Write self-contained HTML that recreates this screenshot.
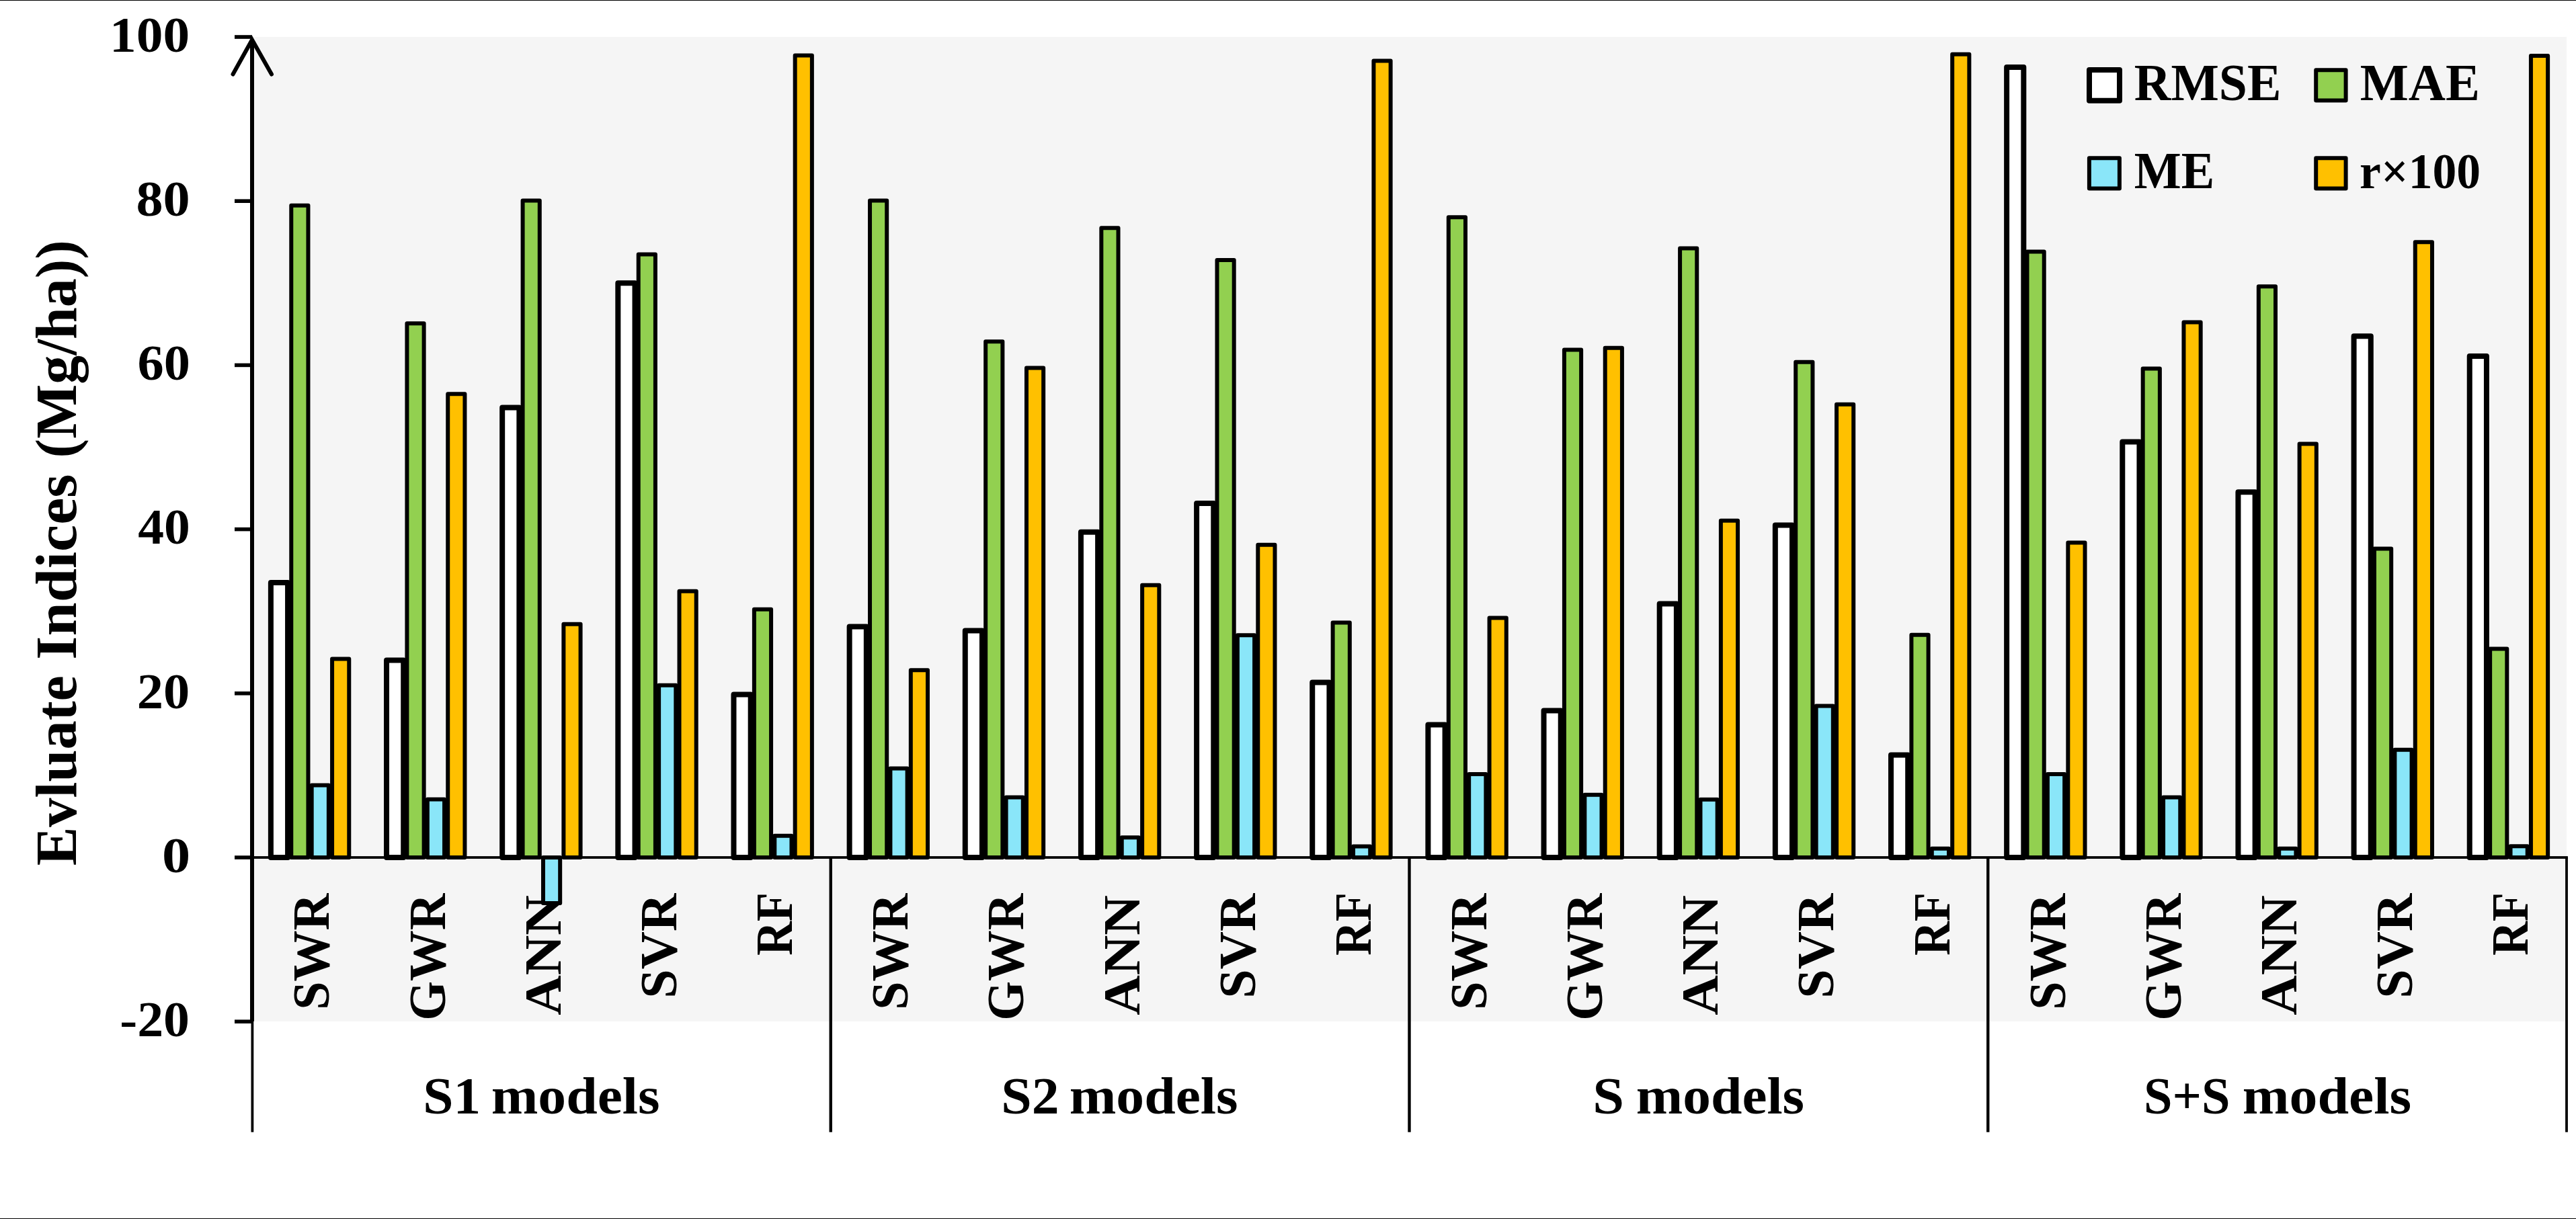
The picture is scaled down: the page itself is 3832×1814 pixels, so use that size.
<!DOCTYPE html>
<html><head><meta charset="utf-8"><title>Evaluate Indices chart</title>
<style>html,body{margin:0;padding:0;background:#fff}svg{display:block}</style></head>
<body><svg width="3832" height="1814" viewBox="0 0 3832 1814">
<rect x="0" y="0" width="3832" height="1814" fill="#fff"/>
<rect x="378" y="55" width="3440" height="1465" fill="#f5f5f5"/>
<text transform="translate(489.47 1502.86) rotate(-90) scale(0.9791 1)" font-size="77.7" font-family="Liberation Serif, serif" font-weight="bold">SWR</text>
<text transform="translate(661.62 1518.78) rotate(-90) scale(0.9731 1)" font-size="77.7" font-family="Liberation Serif, serif" font-weight="bold">GWR</text>
<text transform="translate(833.77 1510.72) rotate(-90) scale(1.0604 1)" font-size="77.7" font-family="Liberation Serif, serif" font-weight="bold">ANN</text>
<text transform="translate(1005.92 1485.76) rotate(-90) scale(1.0037 1)" font-size="77.7" font-family="Liberation Serif, serif" font-weight="bold">SVR</text>
<text transform="translate(1178.08 1422.08) rotate(-90) scale(0.9080 1)" font-size="77.7" font-family="Liberation Serif, serif" font-weight="bold">RF</text>
<text transform="translate(1350.23 1502.86) rotate(-90) scale(0.9791 1)" font-size="77.7" font-family="Liberation Serif, serif" font-weight="bold">SWR</text>
<text transform="translate(1522.38 1518.78) rotate(-90) scale(0.9731 1)" font-size="77.7" font-family="Liberation Serif, serif" font-weight="bold">GWR</text>
<text transform="translate(1694.53 1510.72) rotate(-90) scale(1.0604 1)" font-size="77.7" font-family="Liberation Serif, serif" font-weight="bold">ANN</text>
<text transform="translate(1866.68 1485.76) rotate(-90) scale(1.0037 1)" font-size="77.7" font-family="Liberation Serif, serif" font-weight="bold">SVR</text>
<text transform="translate(2038.83 1422.08) rotate(-90) scale(0.9080 1)" font-size="77.7" font-family="Liberation Serif, serif" font-weight="bold">RF</text>
<text transform="translate(2210.97 1502.86) rotate(-90) scale(0.9791 1)" font-size="77.7" font-family="Liberation Serif, serif" font-weight="bold">SWR</text>
<text transform="translate(2383.13 1518.78) rotate(-90) scale(0.9731 1)" font-size="77.7" font-family="Liberation Serif, serif" font-weight="bold">GWR</text>
<text transform="translate(2555.28 1510.72) rotate(-90) scale(1.0604 1)" font-size="77.7" font-family="Liberation Serif, serif" font-weight="bold">ANN</text>
<text transform="translate(2727.43 1485.76) rotate(-90) scale(1.0037 1)" font-size="77.7" font-family="Liberation Serif, serif" font-weight="bold">SVR</text>
<text transform="translate(2899.58 1422.08) rotate(-90) scale(0.9080 1)" font-size="77.7" font-family="Liberation Serif, serif" font-weight="bold">RF</text>
<text transform="translate(3071.73 1502.86) rotate(-90) scale(0.9791 1)" font-size="77.7" font-family="Liberation Serif, serif" font-weight="bold">SWR</text>
<text transform="translate(3243.88 1518.78) rotate(-90) scale(0.9731 1)" font-size="77.7" font-family="Liberation Serif, serif" font-weight="bold">GWR</text>
<text transform="translate(3416.03 1510.72) rotate(-90) scale(1.0604 1)" font-size="77.7" font-family="Liberation Serif, serif" font-weight="bold">ANN</text>
<text transform="translate(3588.18 1485.76) rotate(-90) scale(1.0037 1)" font-size="77.7" font-family="Liberation Serif, serif" font-weight="bold">SVR</text>
<text transform="translate(3760.33 1422.08) rotate(-90) scale(0.9080 1)" font-size="77.7" font-family="Liberation Serif, serif" font-weight="bold">RF</text>
<rect x="402.88" y="866.96" width="25.2" height="409.04" fill="#ffffff" stroke="#000" stroke-width="8" stroke-linejoin="round"/>
<rect x="575.02" y="982.59" width="25.2" height="293.41" fill="#ffffff" stroke="#000" stroke-width="8" stroke-linejoin="round"/>
<rect x="747.17" y="606.4" width="25.2" height="669.6" fill="#ffffff" stroke="#000" stroke-width="8" stroke-linejoin="round"/>
<rect x="919.32" y="421.3" width="25.2" height="854.7" fill="#ffffff" stroke="#000" stroke-width="8" stroke-linejoin="round"/>
<rect x="1091.48" y="1033.51" width="25.2" height="242.49" fill="#ffffff" stroke="#000" stroke-width="8" stroke-linejoin="round"/>
<rect x="1263.63" y="932.41" width="25.2" height="343.59" fill="#ffffff" stroke="#000" stroke-width="8" stroke-linejoin="round"/>
<rect x="1435.78" y="938.39" width="25.2" height="337.61" fill="#ffffff" stroke="#000" stroke-width="8" stroke-linejoin="round"/>
<rect x="1607.93" y="791.63" width="25.2" height="484.37" fill="#ffffff" stroke="#000" stroke-width="8" stroke-linejoin="round"/>
<rect x="1780.08" y="749.02" width="25.2" height="526.98" fill="#ffffff" stroke="#000" stroke-width="8" stroke-linejoin="round"/>
<rect x="1952.23" y="1015.44" width="25.2" height="260.56" fill="#ffffff" stroke="#000" stroke-width="8" stroke-linejoin="round"/>
<rect x="2124.38" y="1078.44" width="25.2" height="197.56" fill="#ffffff" stroke="#000" stroke-width="8" stroke-linejoin="round"/>
<rect x="2296.53" y="1057.56" width="25.2" height="218.44" fill="#ffffff" stroke="#000" stroke-width="8" stroke-linejoin="round"/>
<rect x="2468.68" y="898.59" width="25.2" height="377.41" fill="#ffffff" stroke="#000" stroke-width="8" stroke-linejoin="round"/>
<rect x="2640.83" y="781.49" width="25.2" height="494.51" fill="#ffffff" stroke="#000" stroke-width="8" stroke-linejoin="round"/>
<rect x="2812.98" y="1123.62" width="25.2" height="152.38" fill="#ffffff" stroke="#000" stroke-width="8" stroke-linejoin="round"/>
<rect x="2985.13" y="100.05" width="25.2" height="1175.95" fill="#ffffff" stroke="#000" stroke-width="8" stroke-linejoin="round"/>
<rect x="3157.28" y="657.56" width="25.2" height="618.44" fill="#ffffff" stroke="#000" stroke-width="8" stroke-linejoin="round"/>
<rect x="3329.43" y="732.29" width="25.2" height="543.71" fill="#ffffff" stroke="#000" stroke-width="8" stroke-linejoin="round"/>
<rect x="3501.58" y="500.3" width="25.2" height="775.7" fill="#ffffff" stroke="#000" stroke-width="8" stroke-linejoin="round"/>
<rect x="3673.73" y="530.09" width="25.2" height="745.91" fill="#ffffff" stroke="#000" stroke-width="8" stroke-linejoin="round"/>
<rect x="433.27" y="305.79" width="25.2" height="970.21" fill="#92d050" stroke="#000" stroke-width="6" stroke-linejoin="round"/>
<rect x="605.42" y="481.13" width="25.2" height="794.87" fill="#92d050" stroke="#000" stroke-width="6" stroke-linejoin="round"/>
<rect x="777.57" y="298.47" width="25.2" height="977.53" fill="#92d050" stroke="#000" stroke-width="6" stroke-linejoin="round"/>
<rect x="949.72" y="378.56" width="25.2" height="897.44" fill="#92d050" stroke="#000" stroke-width="6" stroke-linejoin="round"/>
<rect x="1121.88" y="906.77" width="25.2" height="369.23" fill="#92d050" stroke="#000" stroke-width="6" stroke-linejoin="round"/>
<rect x="1294.03" y="298.47" width="25.2" height="977.53" fill="#92d050" stroke="#000" stroke-width="6" stroke-linejoin="round"/>
<rect x="1466.18" y="508.24" width="25.2" height="767.76" fill="#92d050" stroke="#000" stroke-width="6" stroke-linejoin="round"/>
<rect x="1638.33" y="339.25" width="25.2" height="936.75" fill="#92d050" stroke="#000" stroke-width="6" stroke-linejoin="round"/>
<rect x="1810.48" y="387.11" width="25.2" height="888.89" fill="#92d050" stroke="#000" stroke-width="6" stroke-linejoin="round"/>
<rect x="1982.62" y="926.55" width="25.2" height="349.45" fill="#92d050" stroke="#000" stroke-width="6" stroke-linejoin="round"/>
<rect x="2154.78" y="323.25" width="25.2" height="952.75" fill="#92d050" stroke="#000" stroke-width="6" stroke-linejoin="round"/>
<rect x="2326.93" y="520.57" width="25.2" height="755.43" fill="#92d050" stroke="#000" stroke-width="6" stroke-linejoin="round"/>
<rect x="2499.08" y="369.41" width="25.2" height="906.59" fill="#92d050" stroke="#000" stroke-width="6" stroke-linejoin="round"/>
<rect x="2671.23" y="538.76" width="25.2" height="737.24" fill="#92d050" stroke="#000" stroke-width="6" stroke-linejoin="round"/>
<rect x="2843.38" y="944.74" width="25.2" height="331.26" fill="#92d050" stroke="#000" stroke-width="6" stroke-linejoin="round"/>
<rect x="3015.53" y="374.41" width="25.2" height="901.59" fill="#92d050" stroke="#000" stroke-width="6" stroke-linejoin="round"/>
<rect x="3187.68" y="548.41" width="25.2" height="727.59" fill="#92d050" stroke="#000" stroke-width="6" stroke-linejoin="round"/>
<rect x="3359.83" y="426.31" width="25.2" height="849.69" fill="#92d050" stroke="#000" stroke-width="6" stroke-linejoin="round"/>
<rect x="3531.98" y="816.54" width="25.2" height="459.46" fill="#92d050" stroke="#000" stroke-width="6" stroke-linejoin="round"/>
<rect x="3704.13" y="965.38" width="25.2" height="310.62" fill="#92d050" stroke="#000" stroke-width="6" stroke-linejoin="round"/>
<rect x="463.67" y="1168.55" width="25.2" height="107.45" fill="#8ae6f9" stroke="#000" stroke-width="6" stroke-linejoin="round"/>
<rect x="635.83" y="1189.43" width="25.2" height="86.57" fill="#8ae6f9" stroke="#000" stroke-width="6" stroke-linejoin="round"/>
<rect x="807.98" y="1276" width="25.2" height="67.89" fill="#8ae6f9" stroke="#000" stroke-width="6" stroke-linejoin="round"/>
<rect x="980.12" y="1019.71" width="25.2" height="256.29" fill="#8ae6f9" stroke="#000" stroke-width="6" stroke-linejoin="round"/>
<rect x="1152.28" y="1243.64" width="25.2" height="32.36" fill="#8ae6f9" stroke="#000" stroke-width="6" stroke-linejoin="round"/>
<rect x="1324.43" y="1143.52" width="25.2" height="132.48" fill="#8ae6f9" stroke="#000" stroke-width="6" stroke-linejoin="round"/>
<rect x="1496.58" y="1186.38" width="25.2" height="89.62" fill="#8ae6f9" stroke="#000" stroke-width="6" stroke-linejoin="round"/>
<rect x="1668.73" y="1246.33" width="25.2" height="29.67" fill="#8ae6f9" stroke="#000" stroke-width="6" stroke-linejoin="round"/>
<rect x="1840.88" y="945.35" width="25.2" height="330.65" fill="#8ae6f9" stroke="#000" stroke-width="6" stroke-linejoin="round"/>
<rect x="2013.03" y="1259.39" width="25.2" height="16.61" fill="#8ae6f9" stroke="#000" stroke-width="6" stroke-linejoin="round"/>
<rect x="2185.17" y="1151.95" width="25.2" height="124.05" fill="#8ae6f9" stroke="#000" stroke-width="6" stroke-linejoin="round"/>
<rect x="2357.33" y="1182.72" width="25.2" height="93.28" fill="#8ae6f9" stroke="#000" stroke-width="6" stroke-linejoin="round"/>
<rect x="2529.47" y="1189.68" width="25.2" height="86.32" fill="#8ae6f9" stroke="#000" stroke-width="6" stroke-linejoin="round"/>
<rect x="2701.62" y="1050.48" width="25.2" height="225.52" fill="#8ae6f9" stroke="#000" stroke-width="6" stroke-linejoin="round"/>
<rect x="2873.78" y="1262.69" width="25.2" height="13.31" fill="#8ae6f9" stroke="#000" stroke-width="6" stroke-linejoin="round"/>
<rect x="3045.93" y="1151.95" width="25.2" height="124.05" fill="#8ae6f9" stroke="#000" stroke-width="6" stroke-linejoin="round"/>
<rect x="3218.07" y="1186.38" width="25.2" height="89.62" fill="#8ae6f9" stroke="#000" stroke-width="6" stroke-linejoin="round"/>
<rect x="3390.22" y="1262.69" width="25.2" height="13.31" fill="#8ae6f9" stroke="#000" stroke-width="6" stroke-linejoin="round"/>
<rect x="3562.38" y="1115.68" width="25.2" height="160.32" fill="#8ae6f9" stroke="#000" stroke-width="6" stroke-linejoin="round"/>
<rect x="3734.53" y="1259.27" width="25.2" height="16.73" fill="#8ae6f9" stroke="#000" stroke-width="6" stroke-linejoin="round"/>
<rect x="494.07" y="980.52" width="25.2" height="295.48" fill="#ffc000" stroke="#000" stroke-width="6" stroke-linejoin="round"/>
<rect x="666.23" y="586.13" width="25.2" height="689.87" fill="#ffc000" stroke="#000" stroke-width="6" stroke-linejoin="round"/>
<rect x="838.38" y="928.63" width="25.2" height="347.37" fill="#ffc000" stroke="#000" stroke-width="6" stroke-linejoin="round"/>
<rect x="1010.52" y="879.66" width="25.2" height="396.34" fill="#ffc000" stroke="#000" stroke-width="6" stroke-linejoin="round"/>
<rect x="1182.68" y="82.47" width="25.2" height="1193.53" fill="#ffc000" stroke="#000" stroke-width="6" stroke-linejoin="round"/>
<rect x="1354.83" y="997.25" width="25.2" height="278.75" fill="#ffc000" stroke="#000" stroke-width="6" stroke-linejoin="round"/>
<rect x="1526.98" y="547.43" width="25.2" height="728.57" fill="#ffc000" stroke="#000" stroke-width="6" stroke-linejoin="round"/>
<rect x="1699.12" y="870.75" width="25.2" height="405.25" fill="#ffc000" stroke="#000" stroke-width="6" stroke-linejoin="round"/>
<rect x="1871.28" y="810.8" width="25.2" height="465.2" fill="#ffc000" stroke="#000" stroke-width="6" stroke-linejoin="round"/>
<rect x="2043.43" y="90.53" width="25.2" height="1185.47" fill="#ffc000" stroke="#000" stroke-width="6" stroke-linejoin="round"/>
<rect x="2215.57" y="919.59" width="25.2" height="356.41" fill="#ffc000" stroke="#000" stroke-width="6" stroke-linejoin="round"/>
<rect x="2387.73" y="517.64" width="25.2" height="758.36" fill="#ffc000" stroke="#000" stroke-width="6" stroke-linejoin="round"/>
<rect x="2559.88" y="774.66" width="25.2" height="501.34" fill="#ffc000" stroke="#000" stroke-width="6" stroke-linejoin="round"/>
<rect x="2732.03" y="601.64" width="25.2" height="674.36" fill="#ffc000" stroke="#000" stroke-width="6" stroke-linejoin="round"/>
<rect x="2904.18" y="80.64" width="25.2" height="1195.36" fill="#ffc000" stroke="#000" stroke-width="6" stroke-linejoin="round"/>
<rect x="3076.33" y="807.5" width="25.2" height="468.5" fill="#ffc000" stroke="#000" stroke-width="6" stroke-linejoin="round"/>
<rect x="3248.47" y="479.42" width="25.2" height="796.58" fill="#ffc000" stroke="#000" stroke-width="6" stroke-linejoin="round"/>
<rect x="3420.62" y="660.49" width="25.2" height="615.51" fill="#ffc000" stroke="#000" stroke-width="6" stroke-linejoin="round"/>
<rect x="3592.78" y="360.25" width="25.2" height="915.75" fill="#ffc000" stroke="#000" stroke-width="6" stroke-linejoin="round"/>
<rect x="3764.93" y="83.08" width="25.2" height="1192.92" fill="#ffc000" stroke="#000" stroke-width="6" stroke-linejoin="round"/>
<rect x="372" y="1274.1" width="3447.9" height="3.8" fill="#000"/>
<rect x="373.5" y="1276" width="3.8" height="408.7" fill="#000"/>
<rect x="1233.55" y="1276" width="4.4" height="408.7" fill="#000"/>
<rect x="2094.3" y="1276" width="4.4" height="408.7" fill="#000"/>
<rect x="2955.05" y="1276" width="4.4" height="408.7" fill="#000"/>
<rect x="3816.1" y="1276" width="3.8" height="408.7" fill="#000"/>
<rect x="372" y="58" width="6" height="1461.8" fill="#000"/>
<path d="M346.5 110.5 L375 59.2 L404 110.5" fill="none" stroke="#000" stroke-width="6" stroke-linecap="round" stroke-linejoin="miter" stroke-miterlimit="10"/>
<rect x="349" y="52.2" width="26" height="5.6" fill="#000"/>
<rect x="349" y="296.4" width="25" height="5.6" fill="#000"/>
<rect x="349" y="540.6" width="25" height="5.6" fill="#000"/>
<rect x="349" y="784.8" width="25" height="5.6" fill="#000"/>
<rect x="349" y="1029" width="25" height="5.6" fill="#000"/>
<rect x="349" y="1273.2" width="25" height="5.6" fill="#000"/>
<rect x="349" y="1517.4" width="25" height="5.6" fill="#000"/>
<text transform="translate(163.04 76.86) scale(1.0693 1)" font-size="74.3" font-family="Liberation Serif, serif" font-weight="bold">100</text>
<text transform="translate(202.42 321.06) scale(1.0811 1)" font-size="74.3" font-family="Liberation Serif, serif" font-weight="bold">80</text>
<text transform="translate(204.49 565.26) scale(1.0550 1)" font-size="74.3" font-family="Liberation Serif, serif" font-weight="bold">60</text>
<text transform="translate(205.27 809.46) scale(1.0441 1)" font-size="74.3" font-family="Liberation Serif, serif" font-weight="bold">40</text>
<text transform="translate(203.7 1053.66) scale(1.0562 1)" font-size="74.3" font-family="Liberation Serif, serif" font-weight="bold">20</text>
<text transform="translate(240.91 1297.86) scale(1.1356 1)" font-size="74.3" font-family="Liberation Serif, serif" font-weight="bold">0</text>
<text transform="translate(178.24 1542.06) scale(1.0485 1)" font-size="74.3" font-family="Liberation Serif, serif" font-weight="bold">-20</text>
<text transform="translate(629.37 1656.5) scale(1.0352 1)" font-size="78.5" font-family="Liberation Serif, serif" font-weight="bold">S1</text>
<text transform="translate(730.67 1656.5) scale(1.0653 1)" font-size="78.5" font-family="Liberation Serif, serif" font-weight="bold">models</text>
<text transform="translate(1489.34 1656.5) scale(1.0417 1)" font-size="78.5" font-family="Liberation Serif, serif" font-weight="bold">S2</text>
<text transform="translate(1590.67 1656.5) scale(1.0653 1)" font-size="78.5" font-family="Liberation Serif, serif" font-weight="bold">models</text>
<text transform="translate(2369.21 1656.5) scale(1.0717 1)" font-size="78.5" font-family="Liberation Serif, serif" font-weight="bold">S</text>
<text transform="translate(2433.77 1656.5) scale(1.0632 1)" font-size="78.5" font-family="Liberation Serif, serif" font-weight="bold">models</text>
<text transform="translate(3188.93 1656.5) scale(0.9731 1)" font-size="78.5" font-family="Liberation Serif, serif" font-weight="bold">S+S</text>
<text transform="translate(3335.77 1656.5) scale(1.0670 1)" font-size="78.5" font-family="Liberation Serif, serif" font-weight="bold">models</text>
<text transform="translate(112.9 1288.24) rotate(-90) scale(0.9952 1)" font-size="86.8" font-family="Liberation Serif, serif" font-weight="bold">Evluate</text>
<text transform="translate(112.9 981.71) rotate(-90) scale(1.0411 1)" font-size="86.8" font-family="Liberation Serif, serif" font-weight="bold">Indices</text>
<text transform="translate(112.9 681.42) rotate(-90) scale(0.9894 1)" font-size="86.8" font-family="Liberation Serif, serif" font-weight="bold">(Mg/ha))</text>
<rect x="3108" y="104.1" width="45" height="45.7" fill="#ffffff" stroke="#000" stroke-width="8" stroke-linejoin="round"/>
<rect x="3445.2" y="104.3" width="44.4" height="45.3" fill="#92d050" stroke="#000" stroke-width="6" stroke-linejoin="round"/>
<rect x="3107.9" y="235.2" width="45" height="45.3" fill="#8ae6f9" stroke="#000" stroke-width="6" stroke-linejoin="round"/>
<rect x="3445.2" y="235.2" width="44.4" height="45.3" fill="#ffc000" stroke="#000" stroke-width="6" stroke-linejoin="round"/>
<text transform="translate(3174.74 149.2) scale(0.9739 1)" font-size="77.7" font-family="Liberation Serif, serif" font-weight="bold">RMSE</text>
<text transform="translate(3510.73 149.2) scale(0.9837 1)" font-size="77.7" font-family="Liberation Serif, serif" font-weight="bold">MAE</text>
<text transform="translate(3174.76 280.4) scale(0.9540 1)" font-size="77.7" font-family="Liberation Serif, serif" font-weight="bold">ME</text>
<text transform="translate(3510.09 280.2) scale(0.9615 1)" font-size="74.5" font-family="Liberation Serif, serif" font-weight="bold">r×100</text>
<rect x="0" y="0" width="3832" height="1" fill="#000"/>
<rect x="0" y="1813" width="3832" height="1" fill="#000"/>
</svg></body></html>
